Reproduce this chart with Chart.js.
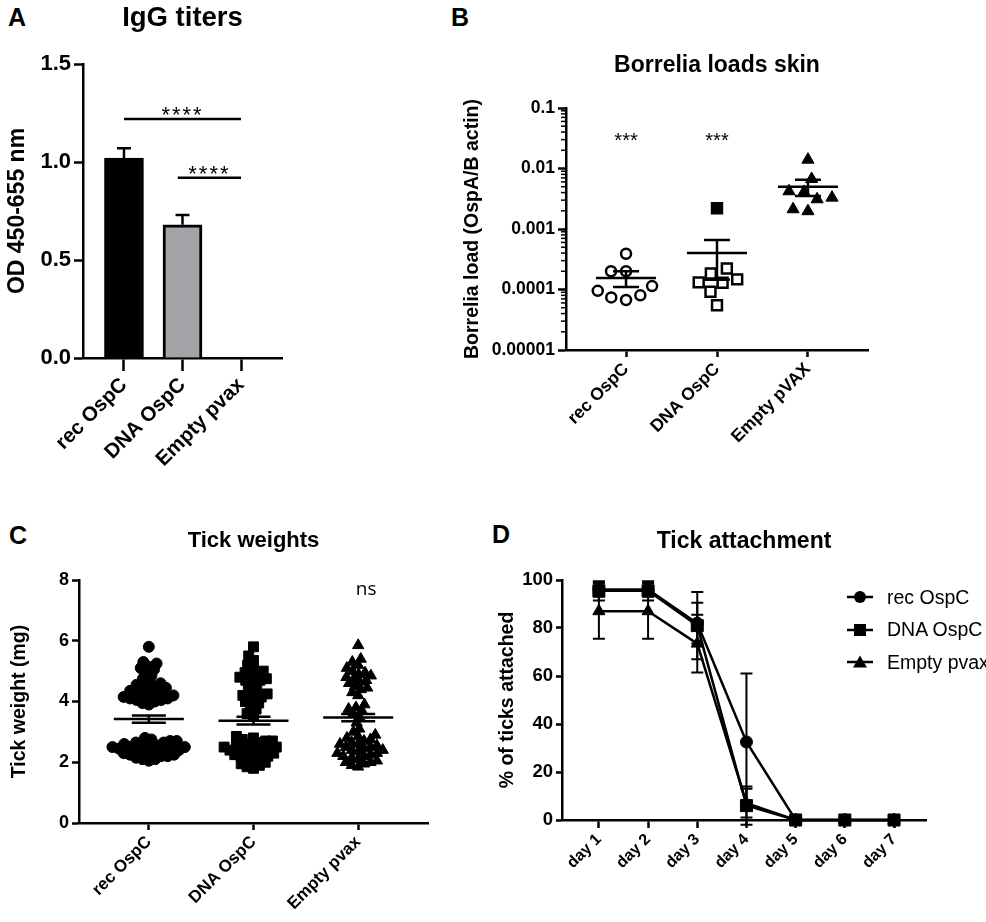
<!DOCTYPE html>
<html><head><meta charset="utf-8">
<script src="https://cdn.jsdelivr.net/npm/chart.js@4.4.1/dist/chart.umd.min.js"></script>
<style>
html,body{margin:0;padding:0;background:#fff;width:986px;height:922px;overflow:hidden;position:relative;font-family:"Liberation Sans",Arial,sans-serif;color:#000;}
canvas{position:absolute;}
.letter{position:absolute;font-weight:bold;font-size:25px;line-height:1;}
#legD{position:absolute;left:847px;top:581px;font-size:19.5px;white-space:nowrap;}
.li{display:flex;align-items:center;height:32.5px;}
.li svg{margin-right:14px;flex:none;}
</style></head><body>
<div class="letter" style="left:8px;top:5px">A</div>
<div class="letter" style="left:451px;top:5px">B</div>
<div class="letter" style="left:9px;top:523px">C</div>
<div class="letter" style="left:492px;top:522px">D</div>
<canvas id="cA" width="300" height="470" style="left:0;top:0;width:300px;height:470px"></canvas>
<canvas id="cB" width="470" height="490" style="left:440px;top:0;width:470px;height:490px"></canvas>
<canvas id="cC" width="460" height="402" style="left:0;top:520px;width:460px;height:402px"></canvas>
<canvas id="cD" width="496" height="402" style="left:490px;top:520px;width:496px;height:402px"></canvas>
<div id="legD"></div>
<script>
const FONT = '"Liberation Sans", Arial, Helvetica, sans-serif';

// ---------- Panel A data ----------
const catsA = ['rec OspC', 'DNA OspC', 'Empty pvax'];
const iggMean = [1.02, 0.68, 0];
const iggErr = [0.05, 0.05, 0];
const ticksA = [0, 0.5, 1.0, 1.5];
const tickLabA = ['0.0', '0.5', '1.0', '1.5'];
const sigFromA = [0, 0.92];
const sigToA = [2, 2];
const sigYA = [1.22, 0.92];
const sigTextA = ['****', '****'];

// ---------- Panel B data ----------
const catsB = ['rec OspC', 'DNA OspC', 'Empty pVAX'];
const loadRec = [3.9e-4, 2.0e-4, 2.0e-4, 1.14e-4, 9.5e-5, 7.4e-5, 8.0e-5, 6.7e-5];
const loadDna = [2.2e-3, 1.84e-4, 2.23e-4, 1.31e-4, 1.47e-4, 1.29e-4, 9.2e-5, 5.5e-5];
const loadPvax = [1.4e-2, 6.7e-3, 3.3e-3, 4.2e-3, 3.1e-3, 4.1e-3, 1.97e-3, 2.12e-3];
const meanB = [1.55e-4, 4.0e-4, 5.0e-3];
const semB = [0.45e-4, 2.55e-4, 1.5e-3];
const ticksB = [0.00001, 0.0001, 0.001, 0.01, 0.1];
const tickLabB = ['0.00001', '0.0001', '0.001', '0.01', '0.1'];
const starsB = ['***', '***', ''];
const starLevelB = 0.033;

// ---------- Panel C data ----------
const catsC = ['rec OspC', 'DNA OspC', 'Empty pvax'];
const weightRec = [5.8, 5.3, 5.25, 5.15, 5.1, 5.05, 4.95, 4.85, 4.75, 4.65, 4.6, 4.55, 4.5, 4.45, 4.45, 4.4, 4.35, 4.3, 4.3, 4.25, 4.2, 4.2, 4.15, 4.15, 4.1, 4.1, 4.05, 4.05, 4.0, 3.95, 3.9,
  2.8, 2.75, 2.7, 2.7, 2.65, 2.65, 2.6, 2.6, 2.55, 2.55, 2.5, 2.5, 2.5, 2.45, 2.45, 2.4, 2.4, 2.4, 2.35, 2.35, 2.3, 2.3, 2.25, 2.25, 2.2, 2.2, 2.15, 2.1, 2.1, 2.05];
const weightDna = [5.8, 5.5, 5.35, 5.2, 5.1, 5.0, 4.95, 4.9, 4.85, 4.8, 4.75, 4.7, 4.7, 4.65, 4.5, 4.4, 4.3, 4.25, 4.2, 4.15, 4.1, 4.0, 3.95, 3.85, 3.75, 3.6, 3.55,
  2.85, 2.8, 2.75, 2.7, 2.7, 2.65, 2.6, 2.6, 2.55, 2.5, 2.5, 2.45, 2.45, 2.4, 2.4, 2.35, 2.3, 2.3, 2.25, 2.2, 2.2, 2.15, 2.1, 2.05, 2.0, 1.95, 1.9, 1.85, 1.8];
const weightPvax = [5.85, 5.4, 5.3, 5.2, 5.1, 5.0, 4.95, 4.9, 4.85, 4.8, 4.75, 4.7, 4.65, 4.6, 4.5, 4.45, 4.4, 4.3, 4.2, 3.9, 3.8, 3.75, 3.7, 3.6, 3.5, 3.3, 3.1, 3.0,
  2.9, 2.85, 2.8, 2.75, 2.7, 2.65, 2.6, 2.6, 2.55, 2.5, 2.5, 2.45, 2.4, 2.4, 2.35, 2.3, 2.3, 2.25, 2.2, 2.2, 2.15, 2.1, 2.05, 2.0, 2.0, 1.95, 1.9, 1.85];
const meanC = [3.42, 3.37, 3.47];
const semC = [0.12, 0.13, 0.12];
const ticksC = [0, 2, 4, 6, 8];
const tickLabC = ['0', '2', '4', '6', '8'];
const nsTextC = 'ns';
const nsLevelC = 7.7;

// ---------- Panel D data ----------
const daysD = ['day 1', 'day 2', 'day 3', 'day 4', 'day 5', 'day 6', 'day 7'];
const seriesD = ['rec OspC', 'DNA OspC', 'Empty pvax'];
const attachRec = [96, 96, 82, 32.5, 0, 0, 0];
const attachDna = [95.5, 95.5, 81, 6, 0, 0, 0];
const attachPvax = [87, 87, 73.5, 7, 0, 0, 0];
const errRec = [3, 3, 8.5, 28.5, 0, 0, 0];
const errDna = [4, 4, 14, 8, 0, 0, 0];
const errPvax = [11.5, 11.5, 12, 6, 0, 0, 0];
const ticksD = [0, 20, 40, 60, 80, 100];
const tickLabD = ['0', '20', '40', '60', '80', '100'];

// ---------- helpers ----------
function catAxis(labels, min, max, size, height, tickLen) {
  return {
    type: 'linear', position: 'bottom', min, max, bounds: 'data', offset: false,
    afterBuildTicks: s => { s.ticks = labels.map((_, i) => ({ value: i })); },
    afterFit: s => { s.height = height; },
    ticks: { autoSkip: false, minRotation: 45, maxRotation: 45, color: '#000', padding: 2,
      font: { family: FONT, size, weight: 'bold' }, callback: v => labels[v] },
    grid: { display: true, offset: false, drawOnChartArea: false, drawTicks: true, tickLength: tickLen, tickWidth: 2.5, tickColor: '#000' },
    border: { display: true, color: '#000', width: 2.5 }
  };
}
function valAxis(o) {
  return {
    type: o.type || 'linear', position: 'left', min: o.min, max: o.max,
    afterBuildTicks: s => { s.ticks = o.ticks.map(v => ({ value: v })); },
    afterFit: s => { s.width = o.width; },
    ticks: { autoSkip: false, color: '#000', padding: 3, font: { family: FONT, size: o.size, weight: 'bold' },
      callback: (v, i) => o.labels[i] },
    grid: { display: true, drawOnChartArea: false, drawTicks: true, tickLength: o.tickLen, tickWidth: 2.5, tickColor: '#000' },
    border: { display: true, color: '#000', width: 2.5 },
    title: { display: true, text: o.title, color: '#000', font: { family: FONT, size: o.titleSize, weight: 'bold', lineHeight: 1.2 },
      padding: { top: o.titlePad, bottom: 0 } }
  };
}
function baseOpts(title, size, pt, pb, pad) {
  return {
    responsive: false, animation: false,
    layout: { padding: pad },
    plugins: {
      legend: { display: false }, tooltip: { enabled: false },
      title: { display: true, text: title, fullSize: false, color: '#000',
        font: { family: FONT, size, weight: 'bold', lineHeight: 1.2 }, padding: { top: pt, bottom: pb } }
    }
  };
}
function beeswarmOffsets(py, d) {
  const order = py.map((_, i) => i).sort((a, b) => py[b] - py[a]);
  const placed = [], out = new Array(py.length);
  for (const i of order) {
    const y = py[i];
    const near = placed.filter(p => Math.abs(p.y - y) < d);
    const cands = [0];
    near.forEach(p => { const dx = Math.sqrt(d * d - (p.y - y) ** 2); cands.push(p.x + dx + 0.01, p.x - dx - 0.01); });
    cands.sort((a, b) => Math.abs(a) - Math.abs(b) || a - b);
    let x = 0;
    for (const c of cands) { if (near.every(p => (p.x - c) ** 2 + (p.y - y) ** 2 >= d * d - 0.05)) { x = c; break; } }
    placed.push({ x, y }); out[i] = x;
  }
  return out;
}
function swarm(chart, groups, d) {
  const xs = chart.scales.x, ys = chart.scales.y;
  const unit = xs.getPixelForValue(1) - xs.getPixelForValue(0);
  groups.forEach((vals, g) => {
    const offs = beeswarmOffsets(vals.map(v => ys.getPixelForValue(v)), d);
    chart.data.datasets[g].data = vals.map((v, i) => ({ x: g + offs[i] / unit, y: v }));
  });
  chart.update('none');
}
function meanSemPlugin(means, sems, meanHalf, semHalf) {
  return { id: 'meanSem', afterDatasetsDraw(chart) {
    const { ctx, scales: { x, y } } = chart;
    ctx.save(); ctx.strokeStyle = '#000'; ctx.lineWidth = 2.5;
    means.forEach((m, i) => {
      const cx = x.getPixelForValue(i);
      const ym = y.getPixelForValue(m), yt = y.getPixelForValue(m + sems[i]), yb = y.getPixelForValue(m - sems[i]);
      ctx.beginPath();
      ctx.moveTo(cx - meanHalf, ym); ctx.lineTo(cx + meanHalf, ym);
      ctx.moveTo(cx - semHalf, yt); ctx.lineTo(cx + semHalf, yt);
      ctx.moveTo(cx - semHalf, yb); ctx.lineTo(cx + semHalf, yb);
      ctx.moveTo(cx, yt); ctx.lineTo(cx, yb);
      ctx.stroke();
    });
    ctx.restore();
  }};
}
function scatterDs(style, r, fill, bw) {
  return { data: [], showLine: false, pointStyle: style, pointRadius: r, pointHoverRadius: r,
    pointBackgroundColor: fill, pointBorderColor: '#000', pointBorderWidth: bw, clip: false };
}

// ---------- Chart A ----------
new Chart(document.getElementById('cA'), {
  type: 'bar',
  data: { datasets: [{ data: iggMean.map((v, i) => ({ x: i, y: v })),
    backgroundColor: ['#000', '#a4a4a8', '#fff'], borderColor: '#000', borderWidth: 3, barThickness: 39 }] },
  options: Object.assign(baseOpts('IgG titers', 27.5, 1.5, 29.5, { left: 0, right: 18, top: 0, bottom: 0 }), {
    scales: {
      x: catAxis(catsA, -0.7, 2.7, 20.5, 112, 13),
      y: valAxis({ min: 0, max: 1.5, ticks: ticksA, labels: tickLabA, size: 22, width: 83, tickLen: 9,
        title: 'OD 450-655 nm', titleSize: 23, titlePad: 4.2 })
    }
  }),
  plugins: [{ id: 'errSigA', afterDatasetsDraw(chart) {
    const { ctx, scales: { x, y } } = chart;
    ctx.save(); ctx.strokeStyle = '#000'; ctx.lineWidth = 2.5;
    iggMean.forEach((m, i) => {
      if (!iggErr[i]) return;
      const cx = x.getPixelForValue(i), yb = y.getPixelForValue(m), yt = y.getPixelForValue(m + iggErr[i]);
      ctx.beginPath(); ctx.moveTo(cx, yb); ctx.lineTo(cx, yt); ctx.moveTo(cx - 7, yt); ctx.lineTo(cx + 7, yt); ctx.stroke();
    });
    ctx.fillStyle = '#000'; ctx.font = '22px ' + FONT; ctx.textAlign = 'center'; ctx.textBaseline = 'alphabetic';
    try { ctx.letterSpacing = '2px'; } catch (e) {}
    sigFromA.forEach((f, i) => {
      const x1 = x.getPixelForValue(f), x2 = x.getPixelForValue(sigToA[i]), py = y.getPixelForValue(sigYA[i]);
      ctx.beginPath(); ctx.moveTo(x1, py); ctx.lineTo(x2, py); ctx.stroke();
      ctx.fillText(sigTextA[i], (x1 + x2) / 2, py + 3);
    });
    ctx.restore();
  }}]
});

// ---------- Chart B ----------
const dsB = [scatterDs('circle', 5, '#fff', 2.5), scatterDs('rect', 7, ctx => ctx.dataIndex === 0 ? '#000' : '#fff', 2.5), scatterDs('triangle', 7, '#000', 1)];
const chartB = new Chart(document.getElementById('cB'), {
  type: 'scatter',
  data: { datasets: dsB },
  options: Object.assign(baseOpts('Borrelia loads skin', 23, 52.2, 28.2, { left: 0, right: 42, top: 0, bottom: 0 }), {
    scales: {
      x: catAxis(catsB, -0.66, 2.66, 17.5, 140, 7),
      y: valAxis({ type: 'logarithmic', min: 0.00001, max: 0.1, ticks: ticksB, labels: tickLabB, size: 17.5, width: 126, tickLen: 8,
        title: 'Borrelia load (OspA/B actin)', titleSize: 19.5, titlePad: 21.3 })
    }
  }),
  plugins: [meanSemPlugin(meanB, semB, 30, 13), { id: 'minorB', afterDraw(chart) {
    const { ctx, scales: { x, y }, chartArea } = chart;
    ctx.save(); ctx.strokeStyle = '#000'; ctx.lineWidth = 1.5;
    for (let e = -5; e < -1; e++) for (let k = 2; k <= 9; k++) {
      const py = y.getPixelForValue(k * Math.pow(10, e));
      ctx.beginPath(); ctx.moveTo(chartArea.left - 1, py); ctx.lineTo(chartArea.left - 5, py); ctx.stroke();
    }
    ctx.fillStyle = '#000'; ctx.font = '20px ' + FONT; ctx.textAlign = 'center'; ctx.textBaseline = 'middle';
    starsB.forEach((s, i) => { if (s) ctx.fillText(s, x.getPixelForValue(i), y.getPixelForValue(starLevelB) + 4); });
    ctx.restore();
  }}]
});
swarm(chartB, [loadRec, loadDna, loadPvax], 15);

// ---------- Chart C ----------
const dsC = [scatterDs('circle', 5.5, '#000', 1), scatterDs('rect', 7, '#000', 1), scatterDs('triangle', 6.5, '#000', 1)];
const chartC = new Chart(document.getElementById('cC'), {
  type: 'scatter',
  data: { datasets: dsC },
  options: Object.assign(baseOpts('Tick weights', 22, 7.8, 25.8, { left: 0, right: 32, top: 0, bottom: 0 }), {
    scales: {
      x: catAxis(catsC, -0.667, 2.667, 17, 99, 7),
      y: valAxis({ min: 0, max: 8, ticks: ticksC, labels: tickLabC, size: 18, width: 79, tickLen: 7,
        title: 'Tick weight (mg)', titleSize: 19.5, titlePad: 8.3 })
    }
  }),
  plugins: [meanSemPlugin(meanC, semC, 35, 17), { id: 'nsC', afterDraw(chart) {
    const { ctx, scales: { x, y } } = chart;
    ctx.save(); ctx.fillStyle = '#000'; ctx.font = '19px "Open Sans", ' + FONT; ctx.textAlign = 'center'; ctx.textBaseline = 'middle';
    ctx.fillText(nsTextC, x.getPixelForValue(2) + 8, y.getPixelForValue(nsLevelC));
    ctx.restore();
  }}]
});
swarm(chartC, [weightRec, weightDna, weightPvax], 6.6);

// ---------- Chart D ----------
function lineDs(label, vals, style, r) {
  return { label, data: vals.map((v, i) => ({ x: i, y: v })), borderColor: '#000', borderWidth: 2.5, tension: 0,
    pointStyle: style, pointRadius: r, pointHoverRadius: r, pointBackgroundColor: '#000', pointBorderColor: '#000', pointBorderWidth: 1, clip: false };
}
const errsD = [errRec, errDna, errPvax];
const valsD = [attachRec, attachDna, attachPvax];
new Chart(document.getElementById('cD'), {
  type: 'line',
  data: { datasets: [lineDs(seriesD[0], attachRec, 'circle', 6), lineDs(seriesD[1], attachDna, 'rect', 8.5), lineDs(seriesD[2], attachPvax, 'triangle', 7)] },
  options: Object.assign(baseOpts('Tick attachment', 23, 8.2, 24.2, { left: 0, right: 60, top: 0, bottom: 0 }), {
    scales: {
      x: catAxis(daysD, -0.75, 6.65, 16, 102, 8),
      y: valAxis({ min: 0, max: 100, ticks: ticksD, labels: tickLabD, size: 18.5, width: 72, tickLen: 6,
        title: '% of ticks attached', titleSize: 19.5, titlePad: 6.3 })
    }
  }),
  plugins: [{ id: 'errD', afterDatasetsDraw(chart) {
    const { ctx, scales: { x, y } } = chart;
    ctx.save(); ctx.strokeStyle = '#000'; ctx.lineWidth = 2;
    valsD.forEach((vals, s) => vals.forEach((v, i) => {
      const e = errsD[s][i]; if (!e) return;
      const cx = x.getPixelForValue(i), yt = y.getPixelForValue(v + e), yb = y.getPixelForValue(v - e);
      ctx.beginPath(); ctx.moveTo(cx, yt); ctx.lineTo(cx, yb);
      ctx.moveTo(cx - 6, yt); ctx.lineTo(cx + 6, yt); ctx.moveTo(cx - 6, yb); ctx.lineTo(cx + 6, yb); ctx.stroke();
    }));
    ctx.restore();
  }}]
});

// legend D (HTML)
const markerSvg = [
  '<circle cx="13" cy="8" r="6" fill="#000"/>',
  '<rect x="7" y="2" width="12" height="12" fill="#000"/>',
  '<polygon points="13,1.5 20,13.5 6,13.5" fill="#000"/>'
];
document.getElementById('legD').innerHTML = seriesD.map((name, i) =>
  '<div class="li"><svg width="26" height="16"><line x1="0" y1="8" x2="26" y2="8" stroke="#000" stroke-width="2.5"/>' + markerSvg[i] + '</svg><span>' + name + '</span></div>'
).join('');
</script>
</body></html>
